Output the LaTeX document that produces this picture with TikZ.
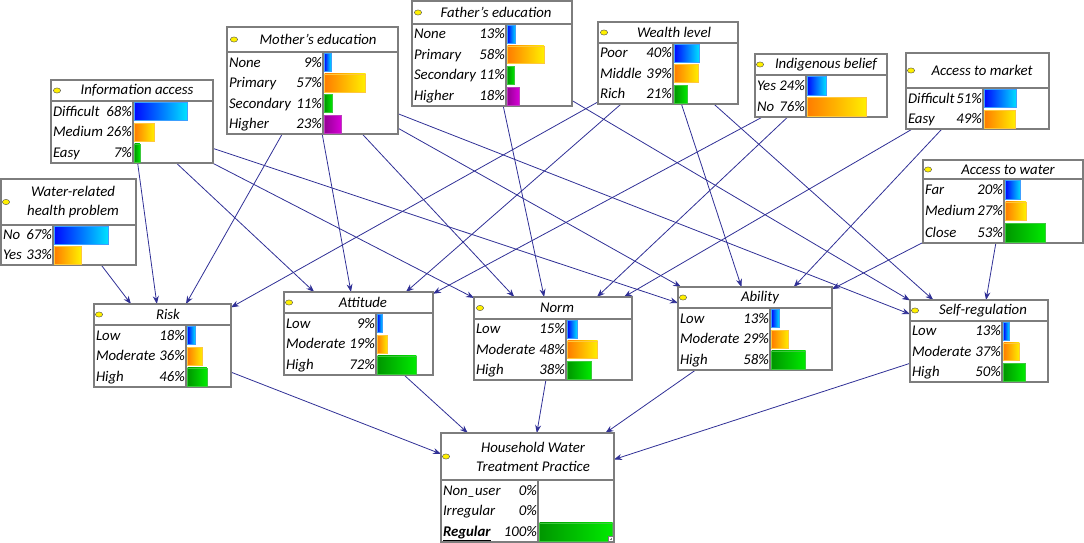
\documentclass[tikz,border=0pt]{standalone}
\usepackage{fontspec}
\setmainfont{Carlito}
\usetikzlibrary{arrows.meta}
\pgfdeclarelayer{bg}
\pgfsetlayers{bg,main}
\definecolor{edgec}{RGB}{48,48,150}
\definecolor{framec}{RGB}{125,125,125}
\definecolor{blueL}{RGB}{0,10,255}
\definecolor{blueR}{RGB}{0,225,255}
\definecolor{blueD}{RGB}{60,160,255}
\definecolor{oraL}{RGB}{255,125,0}
\definecolor{oraR}{RGB}{255,240,0}
\definecolor{oraD}{RGB}{255,200,60}
\definecolor{grnL}{RGB}{0,150,0}
\definecolor{grnR}{RGB}{0,235,0}
\definecolor{grnD}{RGB}{60,200,60}
\definecolor{purL}{RGB}{150,0,150}
\definecolor{purR}{RGB}{215,0,215}
\definecolor{purD}{RGB}{190,60,190}
\definecolor{yel}{RGB}{255,240,0}
\tikzset{
 bnframe/.style={draw=framec, line width=1.2pt, fill=white, inner sep=0pt, outer sep=0pt, rectangle},
 bnline/.style={draw=framec, line width=1.1pt},
 bntext/.style={font=\fontsize{14.8}{17}\selectfont\itshape, inner sep=0pt, outer sep=0pt, text height=10pt, text depth=0.5pt},
 bntitle/.style={font=\fontsize{14.8}{19}\selectfont\itshape, inner sep=0pt, outer sep=0pt, align=center},
 edge/.style={draw=edgec, line width=0.8pt, -{Stealth[length=8pt,width=6pt]}},
}
% 1 name, 2 x1, 3 y1, 4 x2, 5 y2, 6 ytitle, 7 xbar, 8 ellipse x offset
\newcommand\bnbox[8]{%
  \node[bnframe, minimum width={(#4-#2)*1pt}, minimum height={(#5-#3)*1pt}] (#1) at ({(#2+#4)/2},{(#3+#5)/2}) {};
  \draw[bnline] (#2,#6) -- (#4,#6);
  \draw[bnline] (#7,#6) -- (#7,#5);
  \filldraw[fill=yel, draw=black!70, line width=0.4pt] (#2+#8,{(#3+#6)/2}) ellipse (3.6 and 2.6);
}
\newcommand\bntitletext[4]{\node[bntitle] (#1-t) at (#2,#3) {#4};}
% 1 id, 2 x1, 3 xbar, 4 x2, 5 ytop, 6 ybot, 7 label, 8 pct, 9 colour prefix
\newcommand\bnrow[9]{%
  \node[bntext, anchor=west] (#1-l) at (#2+2,{(#5+#6)/2}) {#7};
  \node[bntext, anchor=east] (#1-p) at (#3-1,{(#5+#6)/2}) {#8\%};
  \ifnum#8>0 \shade[left color=#9L, right color=#9R, draw=#9D, line width=0.6pt] (#3+1.5,#5+1.5) rectangle ({#3+1.5+#8/100*(#4-#3-3)},#6-1.2);\fi
}
\begin{document}
\begin{tikzpicture}[x=1pt,y=-1pt]
\useasboundingbox (0,0) rectangle (1084,543);

% Information access
\bnbox{info}{51}{80}{213}{163}{101}{133}{6}
\bntitletext{info}{137}{90.5}{Information access}
\bnrow{info1}{51}{133}{213}{101}{121.7}{Difficult}{68}{blue}
\bnrow{info2}{51}{133}{213}{121.7}{142.3}{Medium}{26}{ora}
\bnrow{info3}{51}{133}{213}{142.3}{163}{Easy}{7}{grn}

% Water-related health problem
\bnbox{water}{1}{179}{136}{265}{225}{53}{5}
\bntitletext{water}{73}{202}{Water-related\\health problem}
\bnrow{water1}{1}{53}{136}{225}{245}{No}{67}{blue}
\bnrow{water2}{1}{53}{136}{245}{265}{Yes}{33}{ora}

% Mother's education
\bnbox{mother}{227}{27}{398}{134}{52}{323}{7}
\bntitletext{mother}{318}{39.5}{Mother's education}
\bnrow{mother1}{227}{323}{398}{52}{72.5}{None}{9}{blue}
\bnrow{mother2}{227}{323}{398}{72.5}{93}{Primary}{57}{ora}
\bnrow{mother3}{227}{323}{398}{93}{113.5}{Secondary}{11}{grn}
\bnrow{mother4}{227}{323}{398}{113.5}{134}{Higher}{23}{pur}

% Father's education
\bnbox{father}{412}{1}{572}{106}{24}{506}{6}
\bntitletext{father}{496}{12.5}{Father's education}
\bnrow{father1}{412}{506}{572}{24}{44.5}{None}{13}{blue}
\bnrow{father2}{412}{506}{572}{44.5}{65}{Primary}{58}{ora}
\bnrow{father3}{412}{506}{572}{65}{85.5}{Secondary}{11}{grn}
\bnrow{father4}{412}{506}{572}{85.5}{106}{Higher}{18}{pur}

% Wealth level
\bnbox{wealth}{598}{22}{738}{104}{43}{673}{6}
\bntitletext{wealth}{674}{32.5}{Wealth level}
\bnrow{wealth1}{598}{673}{738}{43}{63.3}{Poor}{40}{blue}
\bnrow{wealth2}{598}{673}{738}{63.3}{83.7}{Middle}{39}{ora}
\bnrow{wealth3}{598}{673}{738}{83.7}{104}{Rich}{21}{grn}

% Indigenous belief
\bnbox{indig}{755}{54}{887}{117}{75}{806}{5}
\bntitletext{indig}{826}{64.5}{Indigenous belief}
\bnrow{indig1}{755}{806}{887}{75}{96}{Yes}{24}{blue}
\bnrow{indig2}{755}{806}{887}{96}{117}{No}{76}{ora}

% Access to market
\bnbox{market}{906}{53}{1049}{129}{88}{983}{5}
\bntitletext{market}{982}{70.5}{Access to market}
\bnrow{market1}{906}{983}{1049}{88}{108.5}{Difficult}{51}{blue}
\bnrow{market2}{906}{983}{1049}{108.5}{129}{Easy}{49}{ora}

% Access to water
\bnbox{awater}{923}{160}{1083}{243}{179}{1004}{5}
\bntitletext{awater}{1008}{169.5}{Access to water}
\bnrow{awater1}{923}{1004}{1083}{179}{200.3}{Far}{20}{blue}
\bnrow{awater2}{923}{1004}{1083}{200.3}{221.7}{Medium}{27}{ora}
\bnrow{awater3}{923}{1004}{1083}{221.7}{243}{Close}{53}{grn}

% Risk
\bnbox{risk}{94}{304}{231}{387}{325}{186}{5}
\bntitletext{risk}{168}{314.5}{Risk}
\bnrow{risk1}{94}{186}{231}{325}{345.7}{Low}{18}{blue}
\bnrow{risk2}{94}{186}{231}{345.7}{366.3}{Moderate}{36}{ora}
\bnrow{risk3}{94}{186}{231}{366.3}{387}{High}{46}{grn}

% Attitude
\bnbox{att}{284}{292}{433}{375}{313}{376}{5}
\bntitletext{att}{363}{302.5}{Attitude}
\bnrow{att1}{284}{376}{433}{313}{333.7}{Low}{9}{blue}
\bnrow{att2}{284}{376}{433}{333.7}{354.3}{Moderate}{19}{ora}
\bnrow{att3}{284}{376}{433}{354.3}{375}{High}{72}{grn}

% Norm
\bnbox{norm}{474}{297}{632}{380}{319}{566}{6}
\bntitletext{norm}{557}{308}{Norm}
\bnrow{norm1}{474}{566}{632}{319}{339.3}{Low}{15}{blue}
\bnrow{norm2}{474}{566}{632}{339.3}{359.7}{Moderate}{48}{ora}
\bnrow{norm3}{474}{566}{632}{359.7}{380}{High}{38}{grn}

% Ability
\bnbox{ability}{678}{287}{832}{370}{308}{770}{5}
\bntitletext{ability}{760}{297.5}{Ability}
\bnrow{ability1}{678}{770}{832}{308}{328.7}{Low}{13}{blue}
\bnrow{ability2}{678}{770}{832}{328.7}{349.3}{Moderate}{29}{ora}
\bnrow{ability3}{678}{770}{832}{349.3}{370}{High}{58}{grn}

% Self-regulation
\bnbox{selfreg}{910}{300}{1048}{382}{321}{1002}{5}
\bntitletext{selfreg}{983}{310.5}{Self-regulation}
\bnrow{selfreg1}{910}{1002}{1048}{321}{341.3}{Low}{13}{blue}
\bnrow{selfreg2}{910}{1002}{1048}{341.3}{361.7}{Moderate}{37}{ora}
\bnrow{selfreg3}{910}{1002}{1048}{361.7}{382}{High}{50}{grn}

% Household Water Treatment Practice
\bnbox{hwt}{441}{433}{614}{542}{480}{538}{5}
\bntitletext{hwt}{533}{456.5}{Household Water\\Treatment Practice}
\bnrow{hwt1}{441}{538}{614}{480}{500.7}{Non\_user}{0}{grn}
\bnrow{hwt2}{441}{538}{614}{500.7}{521.3}{Irregular}{0}{grn}
\bnrow{hwt3}{441}{538}{614}{521.3}{542}{\underline{\textbf{Regular}}}{100}{grn}
\draw[framec, fill=white, line width=0.5pt] (608.5,536.5) rectangle (613,541);
\draw[framec, line width=0.4pt] (609.5,538.75) -- (612,538.75) (610.75,537.5) -- (610.75,540);

\begin{pgfonlayer}{bg}
\draw[edge] (water) -- (risk);
\draw[edge] (info) -- (risk);
\draw[edge] (mother) -- (risk);
\draw[edge] (wealth) -- (risk);
\draw[edge] (info) -- (att);
\draw[edge] (mother) -- (att);
\draw[edge] (wealth) -- (att);
\draw[edge] (indig) -- (att);
\draw[edge] (info) -- (norm);
\draw[edge] (mother) -- (norm);
\draw[edge] (father) -- (norm);
\draw[edge] (indig) -- (norm);
\draw[edge] (market) -- (norm);
\draw[edge] (info) -- (ability);
\draw[edge] (mother) -- (ability);
\draw[edge] (wealth) -- (ability);
\draw[edge] (market) -- (ability);
\draw[edge] (awater) -- (ability);
\draw[edge] (mother) -- (selfreg);
\draw[edge] (father) -- (selfreg);
\draw[edge] (wealth) -- (selfreg);
\draw[edge] (awater) -- (selfreg);
\draw[edge] (risk) -- (hwt);
\draw[edge] (att) -- (hwt);
\draw[edge] (norm) -- (hwt);
\draw[edge] (ability) -- (hwt);
\draw[edge] (selfreg) -- (hwt);
\end{pgfonlayer}
\end{tikzpicture}
\end{document}
